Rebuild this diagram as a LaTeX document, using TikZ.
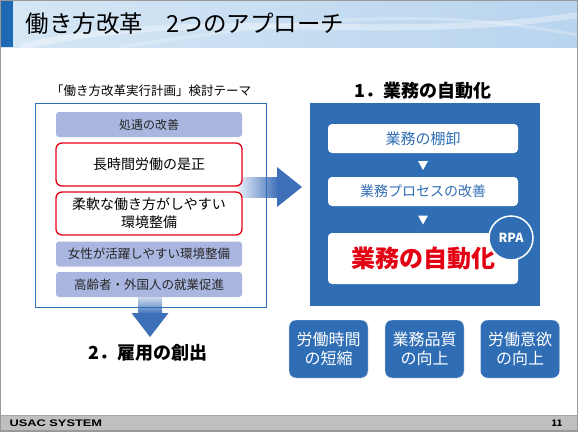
\documentclass[tikz,border=0pt]{standalone}
\usepackage{fontspec}
\setmainfont{Noto Sans CJK JP}
\newfontfamily\logofont{Liberation Sans}[FakeStretch=1.35]
\usetikzlibrary{positioning, calc, arrows.meta}
\definecolor{slideblue}{RGB}{47,110,181}
\definecolor{arrowblue}{RGB}{62,112,186}
\definecolor{paleblue}{RGB}{232,239,248}
\definecolor{lavender}{RGB}{170,182,224}
\definecolor{alertred}{RGB}{228,0,18}
\definecolor{barblue}{RGB}{30,105,180}
\definecolor{footgray}{RGB}{191,191,191}
\tikzset{
    theme/.style = {rectangle, rounded corners=3pt, fill=lavender, text=black!85,
        minimum width=186, minimum height=25, inner sep=0pt, font=\fontsize{12}{15}\selectfont},
    focus/.style = {rectangle, rounded corners=6pt, draw=alertred, line width=1.3pt, fill=white,
        minimum width=186, minimum height=43, inner sep=0pt, align=center, font=\fontsize{14}{18}\selectfont},
    stepbox/.style = {rectangle, rounded corners=4pt, fill=white, text=slideblue,
        minimum width=190, minimum height=29, inner sep=0pt},
    effect/.style = {rectangle, rounded corners=7pt, fill=slideblue, draw=white!80!slideblue,
        text=white, minimum width=79, minimum height=58, inner sep=0pt, align=center,
        font=\fontsize{16}{19}\selectfont},
    heading/.style = {font=\fontsize{18}{22}\selectfont\bfseries},
}

\begin{document}
\begin{tikzpicture}[x=1pt, y=-1pt]
    \useasboundingbox (0,0) rectangle (578,431);
    % title bar
    \shade[left color={rgb,255:red,214;green,231;blue,245}, right color={rgb,255:red,184;green,212;blue,238}]
        (0,0) rectangle (578,47);
    \draw[white, opacity=0.35, line width=6pt] (20,47) .. controls (200,5) and (380,45) .. (578,15);
    \draw[white, opacity=0.25, line width=3pt] (120,47) .. controls (300,20) and (420,5) .. (578,35);
    \fill[barblue] (0,0) rectangle (13,47);
    \node[anchor=west, font=\fontsize{23.5}{27}\selectfont] (title) at (22,24) {働き方改革　2つのアプローチ};

    % left side
    \node[font=\fontsize{12.5}{15}\selectfont] (plan) at (151,91) {「働き方改革実行計画」検討テーマ};
    \coordinate (rtail) at (238,187);
    \coordinate (rtip) at (302,187);
    \shade[left color=paleblue, right color=arrowblue] (rtail) ++(0,-10) rectangle ++(40,20);
    \fill[arrowblue] (rtip) -- ++(-25,-20) -- ++(0,40) -- cycle;
    \coordinate (dtail) at (150,294);
    \coordinate (dtip) at (150,337);
    \shade[top color=paleblue, bottom color=arrowblue] (dtail) ++(-12,0) rectangle ++(24,20);
    \fill[arrowblue] (dtip) -- ++(-18.5,-24) -- ++(37,0) -- cycle;
    \node[draw=slideblue, line width=1pt, minimum width=231, minimum height=204, inner sep=0pt] (themes) at (150.5,205) {};
    \node[theme] (t1) at (149,124.5) {処遇の改善};
    \node[focus] (t2) at (149,164.5) {長時間労働の是正};
    \node[focus] (t3) at (149,213.5) {柔軟な働き方がしやすい\\環境整備};
    \node[theme, font=\fontsize{12.5}{15}\selectfont] (t4) at (149,254) {女性が活躍しやすい環境整備};
    \node[theme, font=\fontsize{12.5}{15}\selectfont] (t5) at (149,284.5) {高齢者・外国人の就業促進};
    \node[heading] (koyou) at (148,353) {2．雇用の創出};

    % right side
    \node[heading] (jidouka) at (423,91) {1．業務の自動化};
    \node[fill=slideblue, minimum width=230, minimum height=203, inner sep=0pt] (auto) at (425,204.5) {};
    \node[stepbox, font=\fontsize{15}{18}\selectfont] (s1) at (423,138.5) {業務の棚卸};
    \node[stepbox, font=\fontsize{14}{18}\selectfont] (s2) at (423,191.5) {業務プロセスの改善};
    \node[stepbox, minimum height=51, text=alertred, font=\fontsize{24}{28}\selectfont\bfseries] (s3) at (423,258.5) {業務の自動化};
    \fill[white] ($(s1.south)!0.5!(s2.north)$) ++(-5,-4) -- ++(10,0) -- ++(-5,9) -- cycle;
    \fill[white] ($(s2.south)!0.5!(s3.north)$) ++(-5,-4) -- ++(10,0) -- ++(-5,9) -- cycle;
    \node[circle, fill=slideblue, draw=white, line width=1.5pt, minimum size=44, inner sep=0pt,
        text=white, font=\fontsize{12.5}{14}\selectfont\bfseries] (rpa) at (511,238) {RPA};

    \node[effect] (e1) at (328.5,349) {労働時間\\の短縮};
    \node[effect] (e2) at (424.5,349) {業務品質\\の向上};
    \node[effect] (e3) at (520,349) {労働意欲\\の向上};

    % footer
    \fill[footgray] (0,415) rectangle (578,431);
    \draw[black!35] (0,415) -- (578,415);
    \node[anchor=west, font=\logofont\fontsize{9.5}{10}\selectfont\bfseries] (logo) at (6,423.5) {USAC SYSTEM};
    \node[anchor=east, font=\fontsize{9}{10}\selectfont\bfseries] (page) at (566,423) {11};
    \draw[black!40, line width=1.5pt] (0,0) rectangle (578,431);
\end{tikzpicture}
\end{document}
